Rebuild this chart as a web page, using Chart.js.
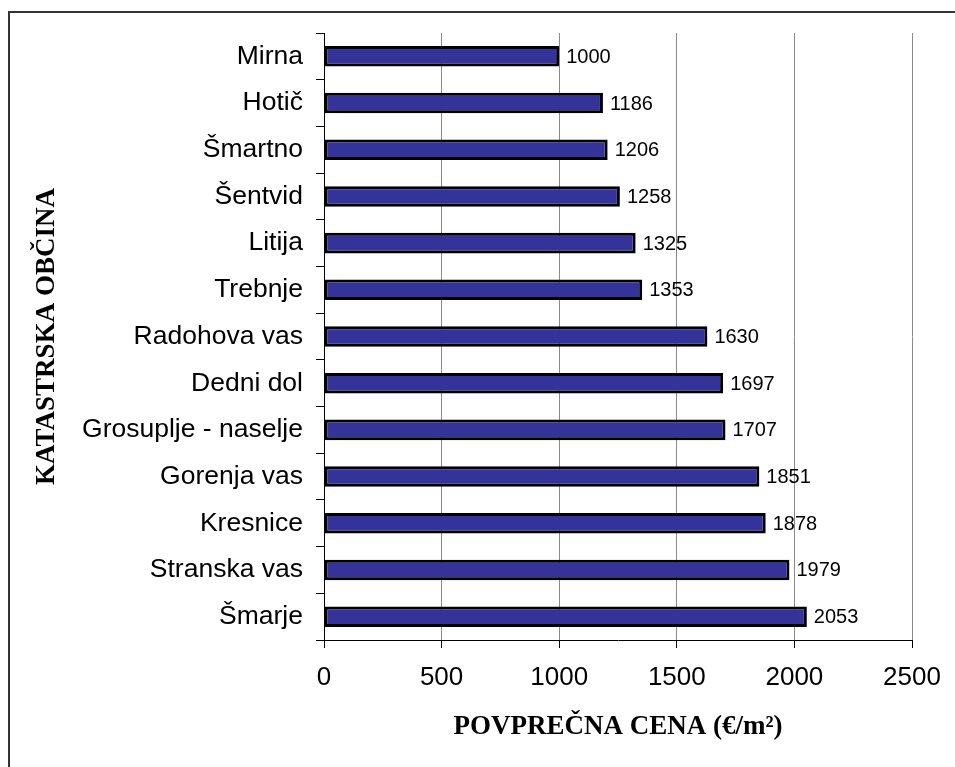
<!DOCTYPE html>
<html>
<head>
<meta charset="utf-8">
<script src="https://cdn.jsdelivr.net/npm/chart.js@4.4.0/dist/chart.umd.min.js"></script>
<style>
  html, body { margin: 0; padding: 0; background: #fff; }
  #wrap { position: relative; width: 955px; height: 767px; }
  #frame {
    position: absolute; left: 8px; top: 11px; right: 0; bottom: 0;
    border-left: 2px solid #333; border-top: 2px solid #333;
    pointer-events: none;
  }
</style>
</head>
<body>
<div id="wrap">
  <canvas id="barChart" width="955" height="767"></canvas>
  <div id="frame"></div>
</div>
<script>
// Average price per cadastral municipality
const municipalities = ['Mirna', 'Hotič', 'Šmartno', 'Šentvid', 'Litija', 'Trebnje', 'Radohova vas',
  'Dedni dol', 'Grosuplje - naselje', 'Gorenja vas', 'Kresnice', 'Stranska vas', 'Šmarje'];
const prices = [1000, 1186, 1206, 1258, 1325, 1353, 1630, 1697, 1707, 1851, 1878, 1979, 2053];
const xTicks = [0, 500, 1000, 1500, 2000, 2500];

const sans = '"Liberation Sans", Arial, sans-serif';
const serif = '"Liberation Serif", "Times New Roman", serif';

// Value labels to the right of each bar
const valueLabels = {
  id: 'valueLabels',
  afterDatasetsDraw(chart) {
    const ctx = chart.ctx;
    const meta = chart.getDatasetMeta(0);
    ctx.save();
    ctx.font = '20px ' + sans;
    ctx.fillStyle = '#000';
    ctx.textAlign = 'left';
    ctx.textBaseline = 'middle';
    meta.data.forEach((bar, i) => {
      ctx.fillText(String(prices[i]), bar.x + 7, bar.y + 1);
    });
    ctx.restore();
  }
};

const ctx = document.getElementById('barChart').getContext('2d');
new Chart(ctx, {
  type: 'bar',
  data: {
    labels: municipalities,
    datasets: [{
      data: prices,
      backgroundColor: '#333399',
      borderColor: '#000',
      borderWidth: 3,
      borderSkipped: false,
      categoryPercentage: 1,
      barPercentage: 0.44
    }]
  },
  options: {
    indexAxis: 'y',
    responsive: false,
    animation: false,
    layout: { padding: { top: 33, right: 43, left: 0, bottom: 0 } },
    plugins: { legend: { display: false }, tooltip: { enabled: false } },
    scales: {
      x: {
        min: 0,
        max: 2500,
        afterFit: s => { s.height = 127; },
        afterBuildTicks: s => { s.ticks = xTicks.map(v => ({ value: v })); },
        grid: {
          color: '#8a8a8a',
          lineWidth: 1,
          borderDash: [1, 1],
          tickColor: '#000',
          tickLength: 8,
          tickBorderDash: []
        },
        border: { color: '#000', width: 1 },
        ticks: {
          color: '#000',
          font: { family: sans, size: 26 },
          padding: 14,
          maxRotation: 0,
          callback: v => String(v)
        },
        title: {
          display: true,
          text: 'POVPREČNA CENA (€/m²)',
          color: '#000',
          font: { family: serif, size: 27, weight: 'bold' },
          padding: { top: 0, bottom: 24 }
        }
      },
      y: {
        afterFit: s => { s.width = 324; },
        grid: { drawOnChartArea: false, color: '#000', tickLength: 8 },
        border: { color: '#000', width: 1 },
        ticks: { color: '#000', font: { family: sans, size: 26.5 }, padding: 13 },
        title: {
          display: true,
          text: 'KATASTRSKA OBČINA',
          color: '#000',
          font: { family: serif, size: 27, weight: 'bold' },
          padding: { top: 31, bottom: 0 }
        }
      }
    }
  },
  plugins: [valueLabels]
});
</script>
</body>
</html>
